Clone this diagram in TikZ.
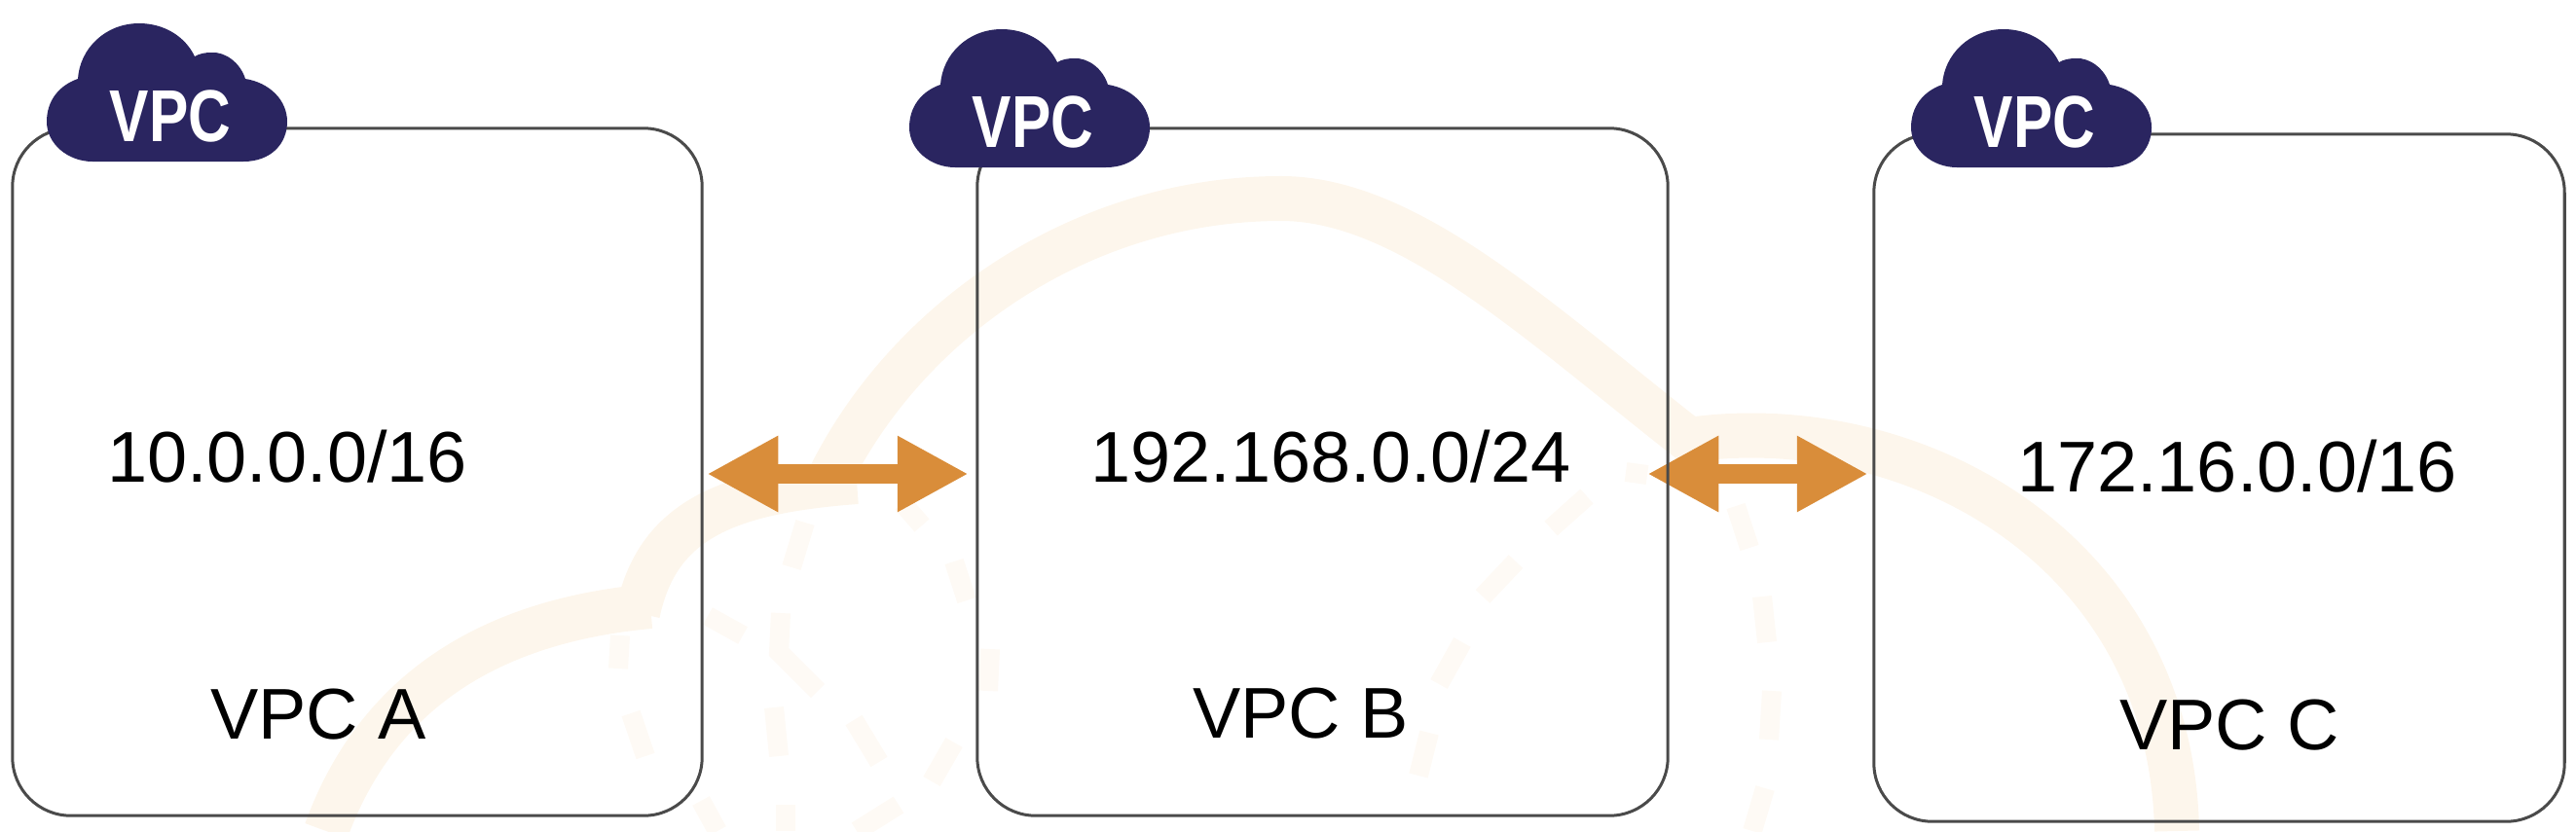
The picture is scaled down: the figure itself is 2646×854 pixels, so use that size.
\documentclass[tikz,border=0pt]{standalone}
\usepackage{fontspec}
\setmainfont{Liberation Sans}
\newfontfamily\cloudfont[FakeStretch=0.8]{Liberation Sans}
\usetikzlibrary{arrows.meta,backgrounds}

\definecolor{cloudblue}{HTML}{2A2560}
\definecolor{linkorange}{HTML}{D98D3A}
\definecolor{boxgrey}{HTML}{4A4A4A}
\definecolor{faintband}{HTML}{FDF6EC}
\definecolor{faintdash}{HTML}{FEFAF5}

\tikzset{
	vpcbox/.style={draw=boxgrey, line width=0.03cm, rounded corners=0.6cm, inner sep=0pt, outer sep=0pt},
	vpclabel/.style={anchor=base, inner sep=0pt, font=\fontsize{21}{25}\selectfont},
	cloudlabel/.style={anchor=base, inner sep=0pt, text=white, font=\cloudfont\bfseries\fontsize{21.5}{25}\selectfont},
	linkarrow/.style={linkorange, line width=0.2cm, {Triangle[length=0.73cm,width=0.73cm]}-{Triangle[length=0.73cm,width=0.73cm]}},
	faintline/.style={faintband, line width=0.46cm},
	faintbit/.style={faintdash, line width=0.2cm}
}

\newcommand{\vpccloud}[3]{%
	\begin{scope}[shift={(#2,#3)}]
		\fill[cloudblue] (95,166) -- (250,166) .. controls (278,166) and (295,148) .. (295,125)
			.. controls (295,103) and (277,85) .. (252,81) .. controls (247,65) and (232,53) .. (217,54)
			.. controls (211,54) and (205,55) .. (200,58) .. controls (190,37) and (168,24) .. (143,24)
			.. controls (108,24) and (82,50) .. (80,81) .. controls (60,88) and (48,104) .. (48,125)
			.. controls (48,148) and (70,166) .. (95,166) -- cycle;
		\node[cloudlabel] (#1) at (175,145) {VPC};
	\end{scope}}

\begin{document}
\begin{tikzpicture}[x=0.01cm, y=-0.01cm]
	\useasboundingbox (0,0) rectangle (2646,854);

	\node[vpcbox, minimum width=7.08cm, minimum height=7.06cm] (vpcA) at (367,485) {};
	\node[vpcbox, minimum width=7.09cm, minimum height=7.06cm] (vpcB) at (1358.5,485) {};
	\node[vpcbox, minimum width=7.09cm, minimum height=7.06cm] (vpcC) at (2279.5,491) {};

	\node[vpclabel] (cidrA) at (295,495) {10.0.0.0/16};
	\node[vpclabel] (cidrB) at (1367,495) {192.168.0.0/24};
	\node[vpclabel] (cidrC) at (2298,505) {172.16.0.0/16};
	\node[vpclabel] (nameA) at (327,759) {VPC A};
	\node[vpclabel] (nameB) at (1336,758) {VPC B};
	\node[vpclabel] (nameC) at (2290,770) {VPC C};

	\vpccloud{cloudA}{0}{0}
	\vpccloud{cloudB}{886}{6}
	\vpccloud{cloudC}{1915}{6}

	\begin{scope}[on background layer]
		% faint cloud behind the boxes
		\draw[faintline] (335,854) .. controls (380,730) and (480,640) .. (668,623);
		\draw[faintline] (655,630) .. controls (675,535) and (745,505) .. (880,495);
		\draw[faintline] (850,495) .. controls (930,330) and (1110,204) .. (1316,204)
			.. controls (1450,204) and (1590,340) .. (1745,460);
		\draw[faintline] (1735,452) .. controls (1960,420) and (2230,560) .. (2236,854);
		\foreach \xa/\ya/\xb/\yb in {637/653/635/687, 648/733/663/777, 727/633/763/653, 827/537/813/583,
			795/727/800/777, 877/740/903/783, 980/763/957/803, 927/517/947/540, 980/577/993/617,
			1017/667/1015/710, 720/823/737/854, 807/827/807/854, 923/827/880/854,
			1670/485/1692/488, 1630/510/1593/543, 1557/577/1523/613, 1502/660/1478/703, 1468/753/1457/797,
			1783/520/1797/563, 1810/613/1815/660, 1820/710/1817/760, 1813/810/1800/854}
			\draw[faintbit] (\xa,\ya) -- (\xb,\yb);
		\draw[faintbit] (802,630) -- (800,670) -- (840,710);

		\draw[linkarrow, shorten <=0.05cm, shorten >=0.09cm] ([yshift=-0.02cm]vpcA.east) -- ([yshift=-0.02cm]vpcB.west);
		\draw[linkarrow, shorten <=-0.21cm, shorten >=0.06cm] ([yshift=-0.02cm]vpcB.east) -- ([yshift=-0.02cm]vpcB.east -| vpcC.west);
	\end{scope}
\end{tikzpicture}
\end{document}
